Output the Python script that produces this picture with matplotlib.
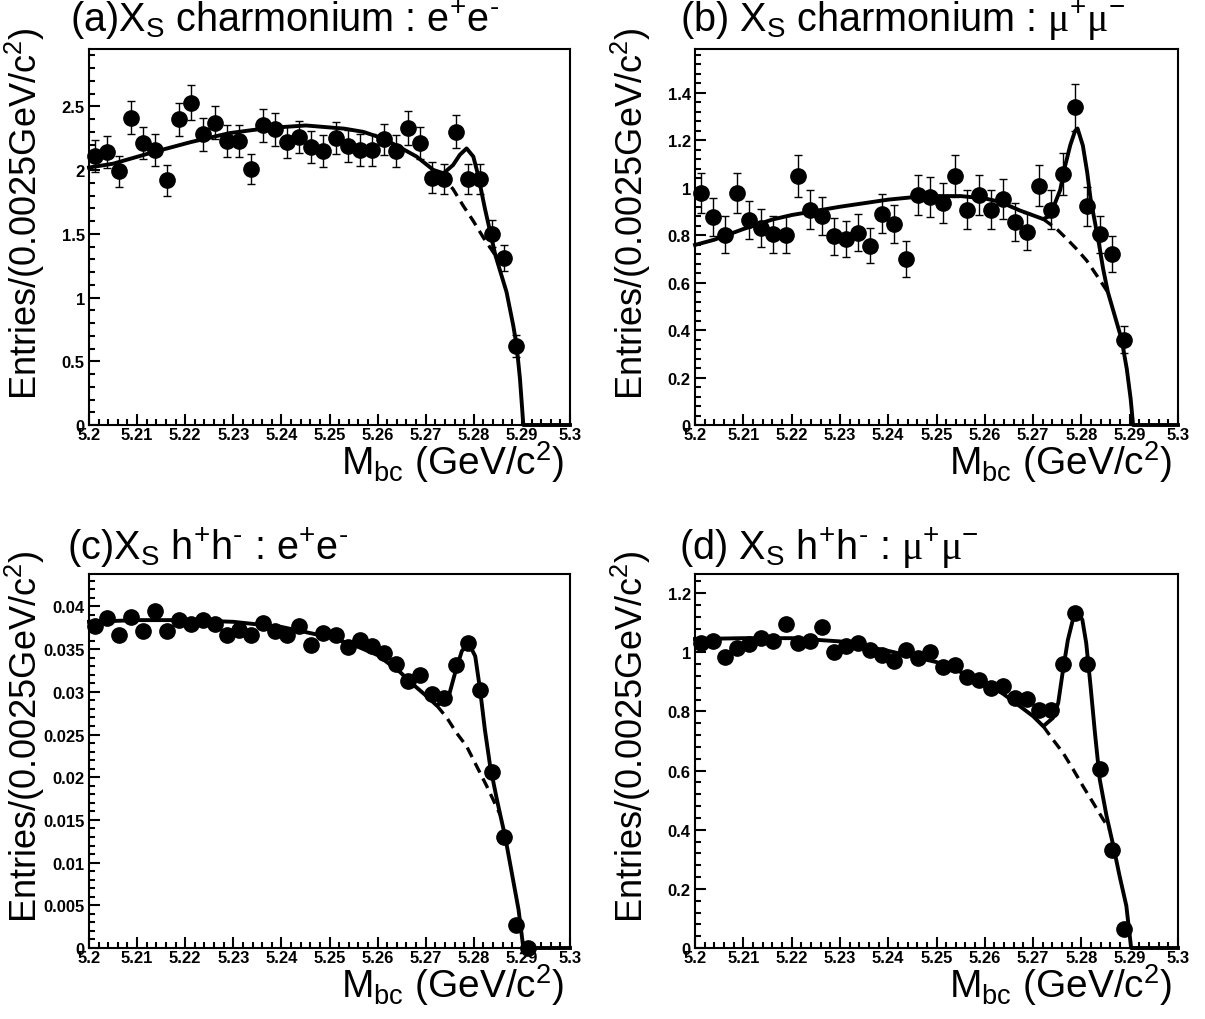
import matplotlib
matplotlib.use("Agg")
import matplotlib.pyplot as plt
from matplotlib.ticker import MultipleLocator, FuncFormatter

plt.rcParams['font.family'] = ['Liberation Sans', 'DejaVu Sans']
plt.rcParams['mathtext.fontset'] = 'custom'
plt.rcParams['mathtext.rm'] = 'Liberation Sans'
plt.rcParams['mathtext.it'] = 'Liberation Sans:italic'
plt.rcParams['mathtext.bf'] = 'Liberation Sans:bold'
plt.rcParams['mathtext.sf'] = 'Liberation Serif'

# Mbc bin centres (0.0025 GeV/c^2 bins)
bin_centers = [5.20125, 5.20375, 5.20625, 5.20875, 5.21125, 5.21375, 5.21625, 5.21875,
               5.22125, 5.22375, 5.22625, 5.22875, 5.23125, 5.23375, 5.23625, 5.23875,
               5.24125, 5.24375, 5.24625, 5.24875, 5.25125, 5.25375, 5.25625, 5.25875,
               5.26125, 5.26375, 5.26625, 5.26875, 5.27125, 5.27375, 5.27625, 5.27875,
               5.28125, 5.28375, 5.28625, 5.28875, 5.29125]

# (a) Xs charmonium : e+e-
entries_a = [2.11, 2.14, 1.99, 2.41, 2.21, 2.16, 1.92, 2.40, 2.53, 2.28, 2.37, 2.23,
             2.23, 2.01, 2.35, 2.32, 2.22, 2.26, 2.18, 2.15, 2.25, 2.19, 2.16, 2.16,
             2.24, 2.15, 2.33, 2.21, 1.94, 1.93, 2.30, 1.93, 1.93, 1.50, 1.31, 0.62]
errors_a = [0.125, 0.125, 0.12, 0.13, 0.125, 0.125, 0.12, 0.13, 0.14, 0.13, 0.13, 0.125,
            0.125, 0.12, 0.13, 0.13, 0.125, 0.125, 0.125, 0.125, 0.125, 0.125, 0.125, 0.125,
            0.125, 0.125, 0.13, 0.125, 0.12, 0.12, 0.13, 0.12, 0.12, 0.105, 0.10, 0.085]
fit_a_x = [5.2, 5.205, 5.2133, 5.2212, 5.2292, 5.2372, 5.2451, 5.2531, 5.257, 5.261,
           5.2647, 5.2681, 5.2716, 5.2737, 5.2757, 5.2771, 5.2785, 5.2799, 5.2809,
           5.2823, 5.2834, 5.2845, 5.2868, 5.2882, 5.2889, 5.2896, 5.2903, 5.3]
fit_a_y = [2.02, 2.05, 2.14, 2.22, 2.29, 2.33, 2.35, 2.325, 2.30, 2.25,
           2.177, 2.106, 2.001, 1.975, 2.04, 2.12, 2.17, 2.106, 1.96,
           1.70, 1.516, 1.33, 1.044, 0.781, 0.624, 0.362, 0.0, 0.0]
bkg_a_x = [5.2730, 5.2757, 5.2778, 5.2799, 5.2820, 5.2845]
bkg_a_y = [1.97, 1.85, 1.72, 1.60, 1.47, 1.33]

# (b) Xs charmonium : mu+mu-
entries_b = [0.978, 0.876, 0.801, 0.978, 0.866, 0.829, 0.805, 0.801, 1.051, 0.908, 0.883, 0.795,
             0.784, 0.810, 0.756, 0.890, 0.848, 0.700, 0.970, 0.960, 0.936, 1.051, 0.908, 0.970,
             0.908, 0.953, 0.857, 0.815, 1.009, 0.908, 1.058, 1.339, 0.922, 0.805, 0.721, 0.360]
errors_b = [0.085, 0.08, 0.078, 0.085, 0.08, 0.08, 0.078, 0.078, 0.088, 0.082, 0.08, 0.077,
            0.077, 0.078, 0.075, 0.082, 0.08, 0.075, 0.085, 0.085, 0.083, 0.088, 0.082, 0.085,
            0.082, 0.083, 0.08, 0.078, 0.087, 0.082, 0.09, 0.10, 0.082, 0.078, 0.075, 0.056]
fit_b_x = [5.2, 5.204, 5.21, 5.216, 5.22, 5.23, 5.24, 5.245, 5.25, 5.255, 5.26, 5.2631,
           5.2673, 5.2721, 5.2735, 5.2756, 5.2766, 5.2777, 5.2787, 5.2792, 5.2803, 5.2812,
           5.2819, 5.2828, 5.2837, 5.2845, 5.2855, 5.2869, 5.2883, 5.2894, 5.2902, 5.2907, 5.3]
fit_b_y = [0.759, 0.781, 0.826, 0.866, 0.885, 0.92, 0.95, 0.96, 0.965, 0.965, 0.955, 0.941,
           0.904, 0.868, 0.882, 0.99, 1.09, 1.18, 1.24, 1.25, 1.178, 1.065,
           0.953, 0.855, 0.756, 0.658, 0.559, 0.461, 0.363, 0.236, 0.11, 0.0, 0.0]
bkg_b_x = [5.2721, 5.2749, 5.2770, 5.2790, 5.2811, 5.2832, 5.2855]
bkg_b_y = [0.868, 0.826, 0.784, 0.742, 0.693, 0.630, 0.559]

# (c) Xs h+h- : e+e-
entries_c = [0.0377, 0.0386, 0.0366, 0.0388, 0.0371, 0.0395, 0.0371, 0.0384, 0.0379, 0.0384,
             0.0379, 0.0366, 0.0372, 0.0366, 0.0381, 0.0371, 0.0367, 0.0377, 0.0355, 0.0369,
             0.0366, 0.0352, 0.0361, 0.0354, 0.0346, 0.0333, 0.0313, 0.0320, 0.0298, 0.0293,
             0.0332, 0.0357, 0.0302, 0.0206, 0.0130, 0.00275, 0.0]
fit_c_x = [5.2, 5.21, 5.22, 5.23, 5.24, 5.25, 5.255, 5.26, 5.2647, 5.2674, 5.2702, 5.2723,
           5.2747, 5.2761, 5.2775, 5.2789, 5.2803, 5.2813, 5.2823, 5.2834, 5.2848, 5.2855,
           5.2865, 5.2879, 5.2893, 5.2903, 5.3]
fit_c_y = [0.0382, 0.0384, 0.0384, 0.0382, 0.0376, 0.0364, 0.0355, 0.0343, 0.0323, 0.03085,
           0.02949, 0.0284, 0.0293, 0.0322, 0.03476, 0.03574, 0.03417, 0.03027, 0.02559,
           0.02129, 0.01739, 0.0156, 0.01309, 0.0088, 0.0045, 0.0, 0.0]
bkg_c_x = [5.2723, 5.2744, 5.2764, 5.2785, 5.2806, 5.2827, 5.2855]
bkg_c_y = [0.0284, 0.02696, 0.0252, 0.02363, 0.02129, 0.01895, 0.0156]

# (d) Xs h+h- : mu+mu-
entries_d = [1.031, 1.037, 0.983, 1.014, 1.028, 1.048, 1.039, 1.095, 1.031, 1.040, 1.087, 1.001,
             1.023, 1.031, 1.008, 0.992, 0.971, 1.008, 0.980, 1.001, 0.949, 0.958, 0.918, 0.907,
             0.879, 0.885, 0.845, 0.843, 0.806, 0.806, 0.962, 1.134, 0.960, 0.605, 0.332, 0.065]
fit_d_x = [5.2, 5.21, 5.22, 5.23, 5.24, 5.25, 5.26, 5.2631, 5.2666, 5.27, 5.2721, 5.2741,
           5.2752, 5.2762, 5.2772, 5.2783, 5.2792, 5.2802, 5.281, 5.2819, 5.2828, 5.2838,
           5.2852, 5.2866, 5.2879, 5.2893, 5.2903, 5.3]
fit_d_y = [1.045, 1.048, 1.048, 1.037, 1.005, 0.967, 0.90, 0.868, 0.826, 0.784, 0.750, 0.778,
           0.829, 0.941, 1.042, 1.115, 1.138, 1.110, 1.031, 0.885, 0.728, 0.570,
           0.447, 0.346, 0.244, 0.143, 0.0, 0.0]
bkg_d_x = [5.2721, 5.2741, 5.2762, 5.2783, 5.2803, 5.2824, 5.2845, 5.2859]
bkg_d_y = [0.750, 0.705, 0.660, 0.604, 0.548, 0.492, 0.435, 0.400]


def fmt_tick(v, pos):
    return '%g' % round(v, 6)


def draw_panel(ax, y, err, fit_x, fit_y, bkg_x, bkg_y, ymax, major, minor):
    """
    Draws one Mbc panel: data points, total fit and background.
    """
    x = bin_centers[:len(y)]
    if err is not None:
        ax.errorbar(x, y, yerr=err, fmt='none', ecolor='black', elinewidth=1.0,
                    capsize=3, capthick=1.0, clip_on=False, zorder=3)
    ax.plot(bkg_x, bkg_y, color='black', lw=2.4, ls=(0, (3.2, 2.0)), clip_on=False, zorder=2)
    ax.plot(fit_x, fit_y, color='black', lw=2.8, clip_on=False, zorder=4)
    ax.plot(x, y, 'o', color='black', ms=11, clip_on=False, zorder=5)

    ax.set_xlim(5.2, 5.3)
    ax.set_ylim(0, ymax)
    ax.xaxis.set_major_locator(MultipleLocator(0.01))
    ax.xaxis.set_minor_locator(MultipleLocator(0.002))
    ax.yaxis.set_major_locator(MultipleLocator(major))
    ax.yaxis.set_minor_locator(MultipleLocator(minor))
    ax.xaxis.set_major_formatter(FuncFormatter(fmt_tick))
    ax.yaxis.set_major_formatter(FuncFormatter(fmt_tick))
    ax.tick_params(which='both', direction='in', top=False, right=False, width=1.5)
    ax.tick_params(which='major', length=8)
    ax.tick_params(which='minor', length=4.3)
    ax.tick_params(axis='x', pad=1.5)
    ax.tick_params(axis='y', pad=3)
    for lab in ax.get_xticklabels() + ax.get_yticklabels():
        lab.set_fontweight('bold')
        lab.set_fontsize(12)
    for sp in ax.spines.values():
        sp.set_linewidth(1.5)


W, H = 1205.0, 1020.0
fig = plt.figure(figsize=(12.05, 10.2), dpi=100)

panels = [
    (89, 426, 481, 376, entries_a, errors_a, fit_a_x, fit_a_y, bkg_a_x, bkg_a_y, 2.95, 0.5, 0.1),
    (695, 426, 483, 376, entries_b, errors_b, fit_b_x, fit_b_y, bkg_b_x, bkg_b_y, 1.585, 0.2, 0.04),
    (89, 949, 481, 374, entries_c, None, fit_c_x, fit_c_y, bkg_c_x, bkg_c_y, 0.0438, 0.005, 0.001),
    (695, 949, 483, 374, entries_d, None, fit_d_x, fit_d_y, bkg_d_x, bkg_d_y, 1.265, 0.2, 0.04),
]

titles = [
    (70, 32, r'(a)X$_{\rm S}$ charmonium : e$^{+}$e$^{\text{-}}$'),
    (680, 32, r'(b) X$_{\rm S}$ charmonium : $\mathsf{\mu}^{+}\mathsf{\mu}^{-}$'),
    (67, 560, r'(c)X$_{\rm S}$ h$^{+}$h$^{\text{-}}$ : e$^{+}$e$^{\text{-}}$'),
    (679, 560, r'(d) X$_{\rm S}$ h$^{+}$h$^{\text{-}}$ : $\mathsf{\mu}^{+}\mathsf{\mu}^{-}$'),
]

for (left, bottom, w, h, y, err, fx, fy, bx, by, ymax, major, minor), (tx, ty, title) in zip(panels, titles):
    ax = fig.add_axes([left / W, 1 - bottom / H, w / W, h / H])
    draw_panel(ax, y, err, fx, fy, bx, by, ymax, major, minor)
    fig.text(tx / W, 1 - ty / H, title, fontsize=28.5, ha='left', va='baseline')
    fig.text((left - 64) / W, 1 - (bottom - 212) / H, r'Entries/(0.0025GeV/c$^{2}$)',
             fontsize=26, rotation=90, ha='center', va='center')
    fig.text((left + w - 6) / W, 1 - (bottom + 49) / H, r'M$_{\rm bc}$ (GeV/c$^{2}$)',
             fontsize=28, ha='right', va='baseline')

fig.savefig('out.png', dpi=100)
